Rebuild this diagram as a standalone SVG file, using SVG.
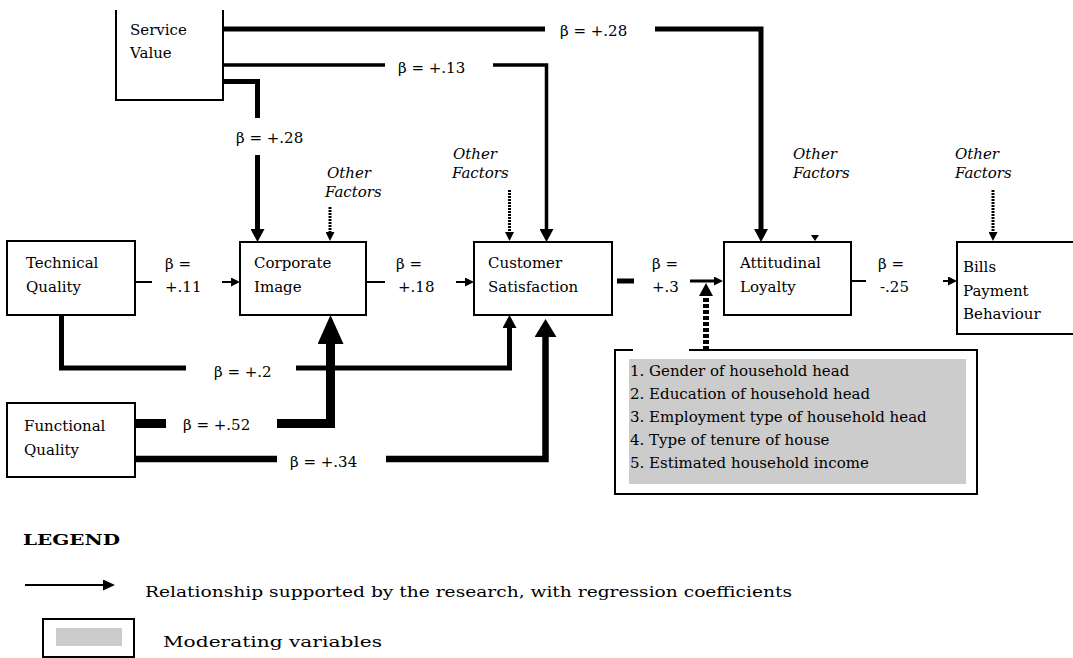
<svg xmlns="http://www.w3.org/2000/svg" width="1073" height="658" viewBox="0 0 1073 658">
  <style>
    .t { font-family: "DejaVu Serif", "Liberation Serif", serif; font-size: 15px; fill: #000; }
    .it { font-style: italic; }
    .box { fill: #fff; stroke: #000; stroke-width: 2; }
    .ln { fill: none; stroke: #000; }
    .dot { fill: none; stroke: #000; stroke-width: 3; stroke-dasharray: 2 1; }
  </style>
  <defs>
    <marker id="a-sm" viewBox="0 0 10 10" refX="0" refY="5" markerWidth="9" markerHeight="9" markerUnits="userSpaceOnUse" orient="auto">
      <path d="M0,0 L10,5 L0,10 z" fill="#000"/>
    </marker>
    <marker id="a-leg" viewBox="0 0 10 10" refX="0" refY="5" markerWidth="12" markerHeight="11" markerUnits="userSpaceOnUse" orient="auto" preserveAspectRatio="none">
      <path d="M0,0 L10,5 L0,10 z" fill="#000"/>
    </marker>
    <marker id="a-md" viewBox="0 0 10 10" refX="0" refY="5" markerWidth="13" markerHeight="14" markerUnits="userSpaceOnUse" orient="auto" preserveAspectRatio="none">
      <path d="M0,0 L10,5 L0,10 z" fill="#000"/>
    </marker>
    <marker id="a-fq" viewBox="0 0 10 10" refX="0" refY="5" markerWidth="18" markerHeight="22" markerUnits="userSpaceOnUse" orient="auto" preserveAspectRatio="none">
      <path d="M0,0 L10,5 L0,10 z" fill="#000"/>
    </marker>
    <marker id="a-lg" viewBox="0 0 10 10" refX="0" refY="5" markerWidth="29" markerHeight="26" markerUnits="userSpaceOnUse" orient="auto" preserveAspectRatio="none">
      <path d="M0,0 L10,5 L0,10 z" fill="#000"/>
    </marker>
  </defs>

  <rect width="1073" height="658" fill="#fff"/>

  <!-- connectors -->
  <g id="connectors">
    <!-- Service Value links -->
    <path class="ln" stroke-width="5" d="M223,29 H545 M655,29 H761 V229" marker-end="url(#a-md)"/>
    <path class="ln" stroke-width="3.5" d="M223,65 H385 M493,65 H546.5 V229" marker-end="url(#a-md)"/>
    <path class="ln" stroke-width="5" d="M223,81.5 H257.5 V118 M257.5,155 V229" marker-end="url(#a-md)"/>
    <!-- horizontal chain -->
    <path class="ln" stroke-width="2" d="M135,282 H152 M222,282 H231" marker-end="url(#a-sm)"/>
    <path class="ln" stroke-width="2" d="M366,282 H385 M456,282 H465" marker-end="url(#a-sm)"/>
    <path class="ln" stroke-width="5" d="M617,281 H634"/>
    <path class="ln" stroke-width="3" d="M690,281 H714" marker-end="url(#a-sm)"/>
    <path class="ln" stroke-width="2" d="M851,281 H866 M943,281 H948" marker-end="url(#a-sm)"/>
    <!-- quality links -->
    <path class="ln" stroke-width="5" d="M61.5,315 V368 H186 M296,368 H509.5 V328" marker-end="url(#a-md)"/>
    <path class="ln" stroke-width="9" d="M135,423.5 H166 M277,423.5 H330.5 V344" marker-end="url(#a-lg)"/>
    <path class="ln" stroke-width="6.5" d="M135,459 H277 M386,459 H545.5 V337" marker-end="url(#a-fq)"/>
    <!-- moderating variables -->
    <path class="ln" stroke-width="6" stroke-dasharray="4 2" d="M706,350 V296" marker-end="url(#a-md)"/>
    <!-- other factors -->
    <path class="dot" d="M330,207 V232" marker-end="url(#a-sm)"/>
    <path class="dot" d="M509.5,190 V232" marker-end="url(#a-sm)"/>
    <path class="dot" d="M993,190 V232" marker-end="url(#a-sm)"/>
    <polygon points="811,235 819,235 815,241" fill="#000"/>
  </g>

  <!-- connector labels -->
  <g id="labels" class="t">
    <text x="560" y="36">β = +.28</text>
    <text x="398" y="73">β = +.13</text>
    <text x="236" y="143">β = +.28</text>
    <text x="165" y="269">β =</text>
    <text x="165" y="292">+.11</text>
    <text x="396" y="269">β =</text>
    <text x="398" y="292">+.18</text>
    <text x="652" y="269">β =</text>
    <text x="652" y="292">+.3</text>
    <text x="878" y="269">β =</text>
    <text x="880" y="292">-.25</text>
    <text x="214" y="377">β = +.2</text>
    <text x="183" y="430">β = +.52</text>
    <text x="290" y="467">β = +.34</text>
  </g>

  <g id="service-value">
    <path class="box" d="M116,10 V100 H223 V10"/>
    <text class="t" x="130" y="35">Service</text>
    <text class="t" x="130" y="58">Value</text>
  </g>

  <g id="technical-quality">
    <rect class="box" x="7" y="241" width="128" height="74"/>
    <text class="t" x="26" y="268">Technical</text>
    <text class="t" x="26" y="292">Quality</text>
  </g>

  <g id="functional-quality">
    <rect class="box" x="7" y="403" width="128" height="74"/>
    <text class="t" x="24" y="431">Functional</text>
    <text class="t" x="24" y="455">Quality</text>
  </g>

  <g id="corporate-image">
    <rect class="box" x="240" y="242" width="126" height="73"/>
    <text class="t" x="254" y="268">Corporate</text>
    <text class="t" x="254" y="292">Image</text>
    <text class="t it" x="327" y="178">Other</text>
    <text class="t it" x="325" y="197">Factors</text>
  </g>

  <g id="customer-satisfaction">
    <rect class="box" x="474" y="242" width="138" height="73"/>
    <text class="t" x="488" y="268">Customer</text>
    <text class="t" x="488" y="292">Satisfaction</text>
    <text class="t it" x="453" y="159">Other</text>
    <text class="t it" x="452" y="178">Factors</text>
  </g>

  <g id="attitudinal-loyalty">
    <rect class="box" x="724" y="242" width="127" height="73"/>
    <text class="t" x="740" y="268">Attitudinal</text>
    <text class="t" x="740" y="292">Loyalty</text>
    <text class="t it" x="793" y="159">Other</text>
    <text class="t it" x="793" y="178">Factors</text>
  </g>

  <g id="bills-payment">
    <path class="box" d="M1073,242 H957 V334 H1073"/>
    <text class="t" x="963" y="272">Bills</text>
    <text class="t" x="963" y="296">Payment</text>
    <text class="t" x="963" y="319">Behaviour</text>
    <text class="t it" x="955" y="159">Other</text>
    <text class="t it" x="955" y="178">Factors</text>
  </g>

  <g id="moderating-variables">
    <path class="ln" stroke-width="2" d="M633,350 H615 V494 H977 V350 H689"/>
    <rect x="629" y="359" width="337" height="125" fill="#cccccc"/>
    <text class="t" x="630" y="376">1. Gender of household head</text>
    <text class="t" x="630" y="399">2. Education of household head</text>
    <text class="t" x="630" y="422">3. Employment type of household head</text>
    <text class="t" x="630" y="445">4. Type of tenure of house</text>
    <text class="t" x="630" y="468">5. Estimated household income</text>
  </g>

  <g id="legend">
    <text class="t" x="23" y="545" font-size="20" font-weight="bold" textLength="97" lengthAdjust="spacingAndGlyphs">LEGEND</text>
    <path class="ln" stroke-width="2" d="M25,585 H103" marker-end="url(#a-leg)"/>
    <text class="t" x="145" y="597" font-size="19" textLength="647" lengthAdjust="spacingAndGlyphs">Relationship supported by the research, with regression coefficients</text>
    <rect class="box" x="43" y="619" width="91" height="38"/>
    <rect x="56" y="628" width="66" height="18" fill="#cccccc"/>
    <text class="t" x="163" y="647" font-size="20" textLength="219" lengthAdjust="spacingAndGlyphs">Moderating variables</text>
  </g>
</svg>
